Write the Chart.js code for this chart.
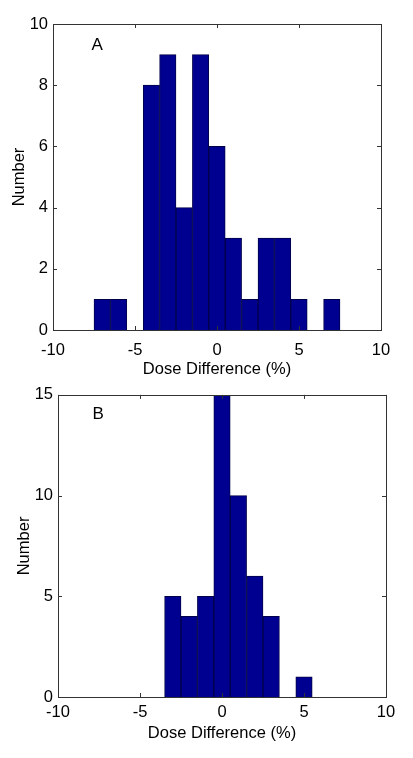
<!DOCTYPE html>
<html>
<head>
<meta charset="utf-8">
<script src="https://cdn.jsdelivr.net/npm/chart.js@4.4.0/dist/chart.umd.min.js"></script>
<style>
  html, body { margin: 0; padding: 0; background: #fff; }
  #wrap { position: relative; width: 413px; height: 758px; overflow: hidden; }
  .c { position: absolute; left: 0; }
</style>
</head>
<body>
<div id="wrap">
  <div class="c" style="top:0;width:413px;height:380px"><canvas id="chartA"></canvas></div>
  <div class="c" style="top:380px;width:413px;height:378px"><canvas id="chartB"></canvas></div>
</div>
<script>
// ---- Data ----
const binsA = [-7, -6, -5, -4, -3, -2, -1, 0, 1, 2, 3, 4, 5, 6, 7];
const countsA = [1, 1, 0, 8, 9, 4, 9, 6, 3, 1, 3, 3, 1, 0, 1];
const binsB = [-3, -2, -1, 0, 1, 2, 3, 4, 5];
const countsB = [5, 4, 5, 15, 10, 6, 4, 0, 1];
const xTicks = [-10, -5, 0, 5, 10];
const yTicksA = [0, 2, 4, 6, 8, 10];
const yTicksB = [0, 5, 10, 15];
const xTitle = 'Dose Difference (%)';
const yTitle = 'Number';

const FONT = "'Liberation Sans', Arial, sans-serif";
const FS = 16.5;
const BAR = '#000090';
const EDGE = '#00004a';
const AXIS = '#333333';

function boxPlugin(label, lx, ly) {
  return {
    id: 'box' + label,
    afterDraw(chart) {
      const {ctx, chartArea: a, scales: {x, y}} = chart;
      ctx.save();
      ctx.strokeStyle = AXIS;
      ctx.lineWidth = 1;
      ctx.strokeRect(Math.round(a.left) + 0.5, Math.round(a.top) + 0.5,
                     Math.round(a.right - a.left), Math.round(a.bottom - a.top));
      const tl = 4;
      ctx.beginPath();
      x.ticks.forEach(t => {
        const px = Math.round(x.getPixelForValue(t.value)) + 0.5;
        ctx.moveTo(px, a.bottom); ctx.lineTo(px, a.bottom - tl);
        ctx.moveTo(px, a.top); ctx.lineTo(px, a.top + tl);
      });
      y.ticks.forEach(t => {
        const py = Math.round(y.getPixelForValue(t.value)) + 0.5;
        ctx.moveTo(a.left, py); ctx.lineTo(a.left + tl, py);
        ctx.moveTo(a.right, py); ctx.lineTo(a.right - tl, py);
      });
      ctx.stroke();
      ctx.fillStyle = '#000';
      ctx.font = '17px ' + FONT;
      ctx.textAlign = 'center';
      ctx.textBaseline = 'middle';
      ctx.fillText(label, x.getPixelForValue(lx), y.getPixelForValue(ly));
      ctx.restore();
    }
  };
}

function makeChart(id, bins, counts, yTicks, ymax, cfg) {
  const data = bins.map((b, i) => ({x: b, y: counts[i]}));
  return new Chart(document.getElementById(id), {
    type: 'bar',
    data: {
      datasets: [{
        data: data,
        backgroundColor: BAR,
        borderColor: EDGE,
        borderWidth: 1,
        barPercentage: 1,
        categoryPercentage: 1
      }]
    },
    options: {
      responsive: true,
      maintainAspectRatio: false,
      animation: false,
      events: [],
      layout: { padding: { top: cfg.top, right: cfg.right, left: 0, bottom: 0 } },
      plugins: { legend: { display: false }, tooltip: { enabled: false } },
      scales: {
        x: {
          type: 'linear',
          min: -10, max: 10,
          offset: false,
          afterBuildTicks(s) { s.ticks = xTicks.map(v => ({value: v})); },
          afterFit(s) { s.height = cfg.xh; },
          grid: { display: false, drawTicks: false },
          border: { display: false },
          ticks: { color: '#000', font: { size: FS, family: FONT }, padding: cfg.xpad, maxRotation: 0 },
          title: { display: true, text: xTitle, color: '#000', font: { size: FS, family: FONT },
                   padding: { top: 0, bottom: cfg.xtpad } }
        },
        y: {
          min: 0, max: ymax,
          afterBuildTicks(s) { s.ticks = yTicks.map(v => ({value: v})); },
          afterFit(s) { s.width = cfg.yw; },
          grid: { display: false, drawTicks: false },
          border: { display: false },
          ticks: { color: '#000', font: { size: FS, family: FONT }, padding: 5 },
          title: { display: true, text: yTitle, color: '#000', font: { size: FS, family: FONT },
                   padding: { top: cfg.ytpad, bottom: 0 } }
        }
      }
    },
    plugins: [boxPlugin(cfg.label, cfg.lx, cfg.ly)]
  });
}

makeChart('chartA', binsA, countsA, yTicksA, 10,
  { top: 24, right: 32, xh: 50, yw: 53, xpad: 11, xtpad: 1, ytpad: 10, label: 'A', lx: -7.3, ly: 9.3 });
makeChart('chartB', binsB, countsB, yTicksB, 15,
  { top: 11, right: 27, xh: 61, yw: 58, xpad: 6, xtpad: 15, ytpad: 15, label: 'B', lx: -7.55, ly: 14.05 });
</script>
</body>
</html>
